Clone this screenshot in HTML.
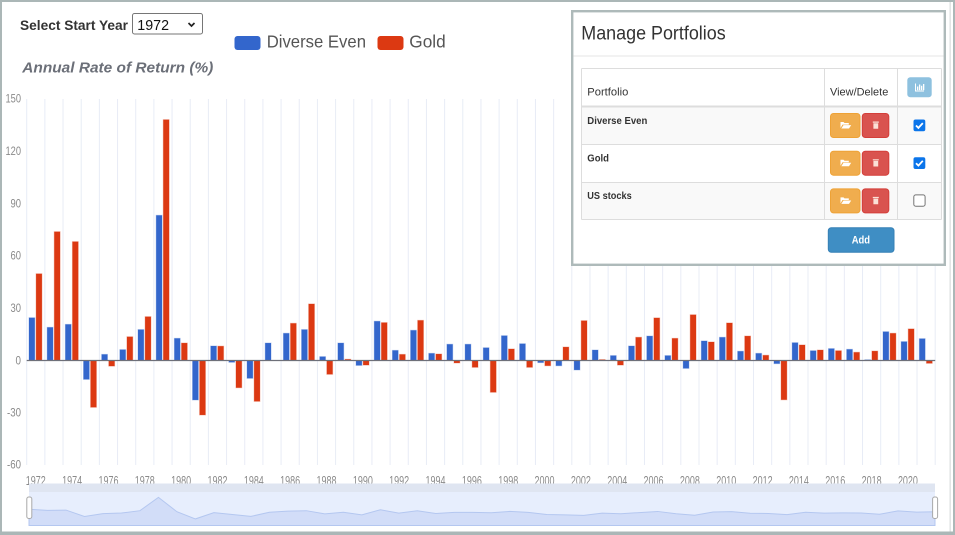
<!DOCTYPE html>
<html><head><meta charset="utf-8"><style>
html,body{margin:0;padding:0;background:#fff;}
svg{display:block;font-family:"Liberation Sans",sans-serif;}
</style></head><body>
<svg width="955" height="535" viewBox="0 0 955 535" xmlns="http://www.w3.org/2000/svg">
<rect x="0" y="0" width="955" height="535" fill="#fff"/>
<path stroke="#e8ecf6" stroke-width="1" d="M26.7 99V465M44.87 99V465M63.04 99V465M81.21 99V465M99.38 99V465M117.55 99V465M135.72 99V465M153.89 99V465M172.06 99V465M190.23 99V465M208.4 99V465M226.57 99V465M244.74 99V465M262.91 99V465M281.08 99V465M299.25 99V465M317.42 99V465M335.59 99V465M353.76 99V465M371.93 99V465M390.1 99V465M408.27 99V465M426.44 99V465M444.61 99V465M462.78 99V465M480.95 99V465M499.12 99V465M517.29 99V465M535.46 99V465M553.63 99V465M571.8 99V465M589.97 99V465M608.14 99V465M626.31 99V465M644.48 99V465M662.65 99V465M680.82 99V465M698.99 99V465M717.16 99V465M735.33 99V465M753.5 99V465M771.67 99V465M789.84 99V465M808.01 99V465M826.18 99V465M844.35 99V465M862.52 99V465M880.69 99V465M898.86 99V465M917.03 99V465M935.2 99V465"/>
<g fill="#3366cc" stroke="#3366cc" stroke-opacity="0.3" stroke-width="1">
<rect x="29" y="317.75" width="5.8" height="42.75"/>
<rect x="47.17" y="327.34" width="5.8" height="33.16"/>
<rect x="65.34" y="324.38" width="5.8" height="36.12"/>
<rect x="83.51" y="360.5" width="5.8" height="18.85"/>
<rect x="101.68" y="354.39" width="5.8" height="6.11"/>
<rect x="119.85" y="349.68" width="5.8" height="10.82"/>
<rect x="138.02" y="329.61" width="5.8" height="30.89"/>
<rect x="156.19" y="215.32" width="5.8" height="145.18"/>
<rect x="174.36" y="338.34" width="5.8" height="22.16"/>
<rect x="192.53" y="360.5" width="5.8" height="39.44"/>
<rect x="210.7" y="346.02" width="5.8" height="14.48"/>
<rect x="228.87" y="360.5" width="5.8" height="1.75"/>
<rect x="247.04" y="360.5" width="5.8" height="17.8"/>
<rect x="265.21" y="343.05" width="5.8" height="17.45"/>
<rect x="283.38" y="333.28" width="5.8" height="27.22"/>
<rect x="301.55" y="329.61" width="5.8" height="30.89"/>
<rect x="319.72" y="356.66" width="5.8" height="3.84"/>
<rect x="337.89" y="343.05" width="5.8" height="17.45"/>
<rect x="356.06" y="360.5" width="5.8" height="4.89"/>
<rect x="374.23" y="321.24" width="5.8" height="39.26"/>
<rect x="392.4" y="350.38" width="5.8" height="10.12"/>
<rect x="410.57" y="330.31" width="5.8" height="30.19"/>
<rect x="428.74" y="353.35" width="5.8" height="7.15"/>
<rect x="446.91" y="344.27" width="5.8" height="16.23"/>
<rect x="465.08" y="344.27" width="5.8" height="16.23"/>
<rect x="483.25" y="347.76" width="5.8" height="12.74"/>
<rect x="501.42" y="335.72" width="5.8" height="24.78"/>
<rect x="519.59" y="343.75" width="5.8" height="16.75"/>
<rect x="537.76" y="360.5" width="5.8" height="2.09"/>
<rect x="555.93" y="360.5" width="5.8" height="5.24"/>
<rect x="574.1" y="360.5" width="5.8" height="9.42"/>
<rect x="592.27" y="350.03" width="5.8" height="10.47"/>
<rect x="610.44" y="355.61" width="5.8" height="4.89"/>
<rect x="628.61" y="346.02" width="5.8" height="14.48"/>
<rect x="646.78" y="336.07" width="5.8" height="24.43"/>
<rect x="664.95" y="355.61" width="5.8" height="4.89"/>
<rect x="683.12" y="360.5" width="5.8" height="7.85"/>
<rect x="701.29" y="340.96" width="5.8" height="19.54"/>
<rect x="719.46" y="337.29" width="5.8" height="23.21"/>
<rect x="737.63" y="351.25" width="5.8" height="9.25"/>
<rect x="755.8" y="353.35" width="5.8" height="7.15"/>
<rect x="773.97" y="360.5" width="5.8" height="3.14"/>
<rect x="792.14" y="342.7" width="5.8" height="17.8"/>
<rect x="810.31" y="350.73" width="5.8" height="9.77"/>
<rect x="828.48" y="348.63" width="5.8" height="11.87"/>
<rect x="846.65" y="349.33" width="5.8" height="11.17"/>
<rect x="864.82" y="359.8" width="5.8" height="0.7"/>
<rect x="882.99" y="331.71" width="5.8" height="28.79"/>
<rect x="901.16" y="341.65" width="5.8" height="18.85"/>
<rect x="919.33" y="338.69" width="5.8" height="21.81"/>
</g>
<g fill="#dc3912" stroke="#dc3912" stroke-opacity="0.3" stroke-width="1">
<rect x="36.1" y="273.77" width="5.8" height="86.73"/>
<rect x="54.27" y="231.72" width="5.8" height="128.78"/>
<rect x="72.44" y="241.67" width="5.8" height="118.83"/>
<rect x="90.61" y="360.5" width="5.8" height="46.77"/>
<rect x="108.78" y="360.5" width="5.8" height="5.58"/>
<rect x="126.95" y="336.77" width="5.8" height="23.73"/>
<rect x="145.12" y="316.7" width="5.8" height="43.8"/>
<rect x="163.29" y="119.69" width="5.8" height="240.81"/>
<rect x="181.46" y="343.05" width="5.8" height="17.45"/>
<rect x="199.63" y="360.5" width="5.8" height="54.44"/>
<rect x="217.8" y="346.19" width="5.8" height="14.31"/>
<rect x="235.97" y="360.5" width="5.8" height="27.22"/>
<rect x="254.14" y="360.5" width="5.8" height="40.83"/>
<rect x="290.48" y="323.33" width="5.8" height="37.17"/>
<rect x="308.65" y="303.96" width="5.8" height="56.54"/>
<rect x="326.82" y="360.5" width="5.8" height="13.79"/>
<rect x="344.99" y="359.28" width="5.8" height="1.22"/>
<rect x="363.16" y="360.5" width="5.8" height="4.54"/>
<rect x="381.33" y="322.63" width="5.8" height="37.87"/>
<rect x="399.5" y="354.39" width="5.8" height="6.11"/>
<rect x="417.67" y="320.36" width="5.8" height="40.14"/>
<rect x="435.84" y="354.04" width="5.8" height="6.46"/>
<rect x="454.01" y="360.5" width="5.8" height="2.44"/>
<rect x="472.18" y="360.5" width="5.8" height="6.81"/>
<rect x="490.35" y="360.5" width="5.8" height="31.76"/>
<rect x="508.52" y="348.98" width="5.8" height="11.52"/>
<rect x="526.69" y="360.5" width="5.8" height="6.81"/>
<rect x="544.86" y="360.5" width="5.8" height="5.24"/>
<rect x="563.03" y="347.06" width="5.8" height="13.44"/>
<rect x="581.2" y="320.71" width="5.8" height="39.79"/>
<rect x="599.37" y="359.63" width="5.8" height="0.87"/>
<rect x="617.54" y="360.5" width="5.8" height="4.54"/>
<rect x="635.71" y="337.29" width="5.8" height="23.21"/>
<rect x="653.88" y="317.92" width="5.8" height="42.58"/>
<rect x="672.05" y="338.34" width="5.8" height="22.16"/>
<rect x="690.22" y="314.78" width="5.8" height="45.72"/>
<rect x="708.39" y="342" width="5.8" height="18.5"/>
<rect x="726.56" y="322.98" width="5.8" height="37.52"/>
<rect x="744.73" y="336.07" width="5.8" height="24.43"/>
<rect x="762.9" y="355.26" width="5.8" height="5.24"/>
<rect x="781.07" y="360.5" width="5.8" height="39.26"/>
<rect x="799.24" y="344.97" width="5.8" height="15.53"/>
<rect x="817.41" y="350.03" width="5.8" height="10.47"/>
<rect x="835.58" y="350.73" width="5.8" height="9.77"/>
<rect x="853.75" y="352.3" width="5.8" height="8.2"/>
<rect x="871.92" y="351.08" width="5.8" height="9.42"/>
<rect x="890.09" y="333.28" width="5.8" height="27.22"/>
<rect x="908.26" y="328.92" width="5.8" height="31.58"/>
<rect x="926.43" y="360.5" width="5.8" height="2.79"/>
</g>
<line x1="26.7" y1="360.5" x2="935.2" y2="360.5" stroke="#6e7079" stroke-width="1.2"/>
<g font-size="12" fill="#8a8a8a" text-anchor="end">
<text x="21" y="102.5" textLength="15.5" lengthAdjust="spacingAndGlyphs">150</text>
<text x="21" y="155" textLength="15.5" lengthAdjust="spacingAndGlyphs">120</text>
<text x="21" y="207.3" textLength="10.5" lengthAdjust="spacingAndGlyphs">90</text>
<text x="21" y="259.6" textLength="10.5" lengthAdjust="spacingAndGlyphs">60</text>
<text x="21" y="312" textLength="10.5" lengthAdjust="spacingAndGlyphs">30</text>
<text x="21" y="364.3" textLength="5.5" lengthAdjust="spacingAndGlyphs">0</text>
<text x="21" y="416.7" textLength="14" lengthAdjust="spacingAndGlyphs">-30</text>
<text x="21" y="468.5" textLength="14" lengthAdjust="spacingAndGlyphs">-60</text>
</g>
<g font-size="12.5" fill="#8a8a8a" text-anchor="middle">
<text x="35.78" y="485" textLength="20" lengthAdjust="spacingAndGlyphs">1972</text>
<text x="72.12" y="485" textLength="20" lengthAdjust="spacingAndGlyphs">1974</text>
<text x="108.46" y="485" textLength="20" lengthAdjust="spacingAndGlyphs">1976</text>
<text x="144.8" y="485" textLength="20" lengthAdjust="spacingAndGlyphs">1978</text>
<text x="181.14" y="485" textLength="20" lengthAdjust="spacingAndGlyphs">1980</text>
<text x="217.48" y="485" textLength="20" lengthAdjust="spacingAndGlyphs">1982</text>
<text x="253.82" y="485" textLength="20" lengthAdjust="spacingAndGlyphs">1984</text>
<text x="290.16" y="485" textLength="20" lengthAdjust="spacingAndGlyphs">1986</text>
<text x="326.5" y="485" textLength="20" lengthAdjust="spacingAndGlyphs">1988</text>
<text x="362.84" y="485" textLength="20" lengthAdjust="spacingAndGlyphs">1990</text>
<text x="399.18" y="485" textLength="20" lengthAdjust="spacingAndGlyphs">1992</text>
<text x="435.52" y="485" textLength="20" lengthAdjust="spacingAndGlyphs">1994</text>
<text x="471.86" y="485" textLength="20" lengthAdjust="spacingAndGlyphs">1996</text>
<text x="508.2" y="485" textLength="20" lengthAdjust="spacingAndGlyphs">1998</text>
<text x="544.54" y="485" textLength="20" lengthAdjust="spacingAndGlyphs">2000</text>
<text x="580.88" y="485" textLength="20" lengthAdjust="spacingAndGlyphs">2002</text>
<text x="617.22" y="485" textLength="20" lengthAdjust="spacingAndGlyphs">2004</text>
<text x="653.56" y="485" textLength="20" lengthAdjust="spacingAndGlyphs">2006</text>
<text x="689.9" y="485" textLength="20" lengthAdjust="spacingAndGlyphs">2008</text>
<text x="726.24" y="485" textLength="20" lengthAdjust="spacingAndGlyphs">2010</text>
<text x="762.58" y="485" textLength="20" lengthAdjust="spacingAndGlyphs">2012</text>
<text x="798.92" y="485" textLength="20" lengthAdjust="spacingAndGlyphs">2014</text>
<text x="835.26" y="485" textLength="20" lengthAdjust="spacingAndGlyphs">2016</text>
<text x="871.6" y="485" textLength="20" lengthAdjust="spacingAndGlyphs">2018</text>
<text x="907.94" y="485" textLength="20" lengthAdjust="spacingAndGlyphs">2020</text>
</g>
<rect x="29" y="483.5" width="906" height="8.5" fill="#dfe5f1"/>
<rect x="29" y="492" width="906" height="33.5" fill="#e7eefd"/>
<path d="M29 509.3L47.49 510.42L65.98 510.08L84.47 516.5L102.96 513.59L121.45 513.04L139.94 510.69L158.43 497.33L176.92 511.71L195.41 518.91L213.9 512.61L232.39 514.5L250.88 516.38L269.37 512.26L287.86 511.12L306.35 510.69L324.84 513.85L343.33 512.26L361.82 514.87L380.31 509.71L398.8 513.12L417.29 510.77L435.78 513.46L454.27 512.4L472.76 512.4L491.25 512.81L509.74 511.4L528.23 512.34L546.72 514.54L565.21 514.91L583.7 515.4L602.19 513.08L620.68 513.73L639.17 512.61L657.66 511.44L676.15 513.73L694.64 515.22L713.13 512.02L731.62 511.59L750.11 513.22L768.6 513.46L787.09 514.67L805.58 512.22L824.07 513.16L842.56 512.91L861.05 512.99L879.54 514.22L898.03 510.93L916.52 512.1L935 511.75L935 525.5L29 525.5Z" fill="#d2ddf8" stroke="#b4c7f0" stroke-width="1"/>
<rect x="26.8" y="497" width="5" height="21.5" rx="2" fill="#fff" stroke="#a9a9a9" stroke-width="1"/>
<rect x="932.6" y="497" width="5" height="21.5" rx="2" fill="#fff" stroke="#a9a9a9" stroke-width="1"/>
<text x="20" y="30" font-size="14" font-weight="bold" fill="#333" textLength="108" lengthAdjust="spacingAndGlyphs">Select Start Year</text>
<rect x="132.5" y="13.5" width="70" height="20.5" rx="2" fill="#fff" stroke="#767676" stroke-width="1"/>
<text x="137.3" y="30" font-size="15" fill="#111" textLength="31.7" lengthAdjust="spacingAndGlyphs">1972</text>
<polyline points="188.5,23 191.5,26 194.5,23" fill="none" stroke="#222" stroke-width="1.7"/>
<rect x="234.5" y="36" width="26" height="14" rx="3" fill="#3366cc"/>
<text x="266.7" y="47.7" font-size="17.5" fill="#555" textLength="99.3" lengthAdjust="spacingAndGlyphs">Diverse Even</text>
<rect x="377.5" y="36" width="26" height="14" rx="3" fill="#dc3912"/>
<text x="409.3" y="47.7" font-size="17.5" fill="#555" textLength="36.4" lengthAdjust="spacingAndGlyphs">Gold</text>
<text x="22.3" y="72.7" font-size="14.5" font-weight="bold" font-style="italic" fill="#6b6f78" textLength="191" lengthAdjust="spacingAndGlyphs">Annual Rate of Return (%)</text>
<rect x="572.2" y="11.2" width="372.6" height="253.6" fill="#fff" stroke="#aebaba" stroke-width="2.4"/>
<text x="581.3" y="39.3" font-size="19" fill="#333" textLength="144.4" lengthAdjust="spacingAndGlyphs">Manage Portfolios</text>
<line x1="573.5" y1="56" x2="943.5" y2="56" stroke="#e5e5e5" stroke-width="1"/>
<rect x="581.5" y="107.5" width="360" height="37" fill="#f9f9f9"/>
<rect x="581.5" y="182.5" width="360" height="37" fill="#f9f9f9"/>
<path d="M581.5 68.5H941.5M581.5 144.5H941.5M581.5 182.5H941.5M581.5 219.5H941.5M581.5 68.5V219.5M824.5 68.5V219.5M897.5 68.5V219.5M941.5 68.5V219.5" stroke="#dddddd" stroke-width="1" fill="none"/>
<line x1="581.5" y1="106.5" x2="941.5" y2="106.5" stroke="#dddddd" stroke-width="2"/>
<text x="587.3" y="95.7" font-size="11" fill="#333" textLength="41" lengthAdjust="spacingAndGlyphs">Portfolio</text>
<text x="830" y="95.7" font-size="11" fill="#333" textLength="58.3" lengthAdjust="spacingAndGlyphs">View/Delete</text>
<rect x="907.3" y="77.3" width="24.4" height="20" rx="3" fill="#8ec1df"/>
<path d="M915.5 83.5V91H924" stroke="#fff" stroke-width="1" fill="none"/>
<path d="M917 86.5h1.3v3.6h-1.3zM919 84.5h1.3v5.6h-1.3zM921 85.8h1.3v4.3h-1.3zM923 84h1.3v6.1h-1.3z" fill="#fff"/>
<text x="587.3" y="124" font-size="10.5" font-weight="bold" fill="#333" textLength="60" lengthAdjust="spacingAndGlyphs">Diverse Even</text>
<text x="587.3" y="161.5" font-size="10.5" font-weight="bold" fill="#333" textLength="21.7" lengthAdjust="spacingAndGlyphs">Gold</text>
<text x="587.3" y="199.2" font-size="10.5" font-weight="bold" fill="#333" textLength="44.4" lengthAdjust="spacingAndGlyphs">US stocks</text>
<g id="btns">
<rect x="830.5" y="113.5" width="29.5" height="24" rx="3" fill="#f0ad4e" stroke="#eea236" stroke-width="1"/>
<rect x="862.3" y="113.5" width="26.5" height="24" rx="3" fill="#d9534f" stroke="#d43f3a" stroke-width="1"/>
<path d="M840.5 122h3l1 1h4.3v1.6h-6.3l-2 3.4zM841.3 128.5l2.2-3.4h7.7l-2.2 3.4z" fill="#fff"/>
<path d="M872.8 121.5h6v1.2h-6zM873.4 123.2h4.8v5.6h-4.8z" fill="#fbe0d6"/>
</g>
<use href="#btns" transform="translate(0,37.7)"/>
<use href="#btns" transform="translate(0,75.4)"/>
<rect x="913.5" y="119.5" width="11.8" height="11.8" rx="2" fill="#0b75ea"/>
<path d="M916 125.5l2.4 2.4l4.4-4.8" fill="none" stroke="#fff" stroke-width="1.8"/>
<rect x="913.5" y="157.2" width="11.8" height="11.8" rx="2" fill="#0b75ea"/>
<path d="M916 163.2l2.4 2.4l4.4-4.8" fill="none" stroke="#fff" stroke-width="1.8"/>
<rect x="913.8" y="194.9" width="11.3" height="11.3" rx="2" fill="#fff" stroke="#767676" stroke-width="1"/>
<rect x="828.3" y="227.7" width="65.7" height="24.6" rx="3" fill="#3f8ec4" stroke="#3680b6" stroke-width="1"/>
<text x="851.7" y="243.5" font-size="11" font-weight="bold" fill="#fff" textLength="18.3" lengthAdjust="spacingAndGlyphs">Add</text>
<line x1="950.2" y1="0" x2="950.2" y2="535" stroke="#e0e4e4" stroke-width="1.5"/>
<path d="M0 0H955V2H0zM0 0H2V535H0zM0 531.5H955V535H0zM953 0H955V535H953z" fill="#abb7b7"/>
</svg>
</body></html>
